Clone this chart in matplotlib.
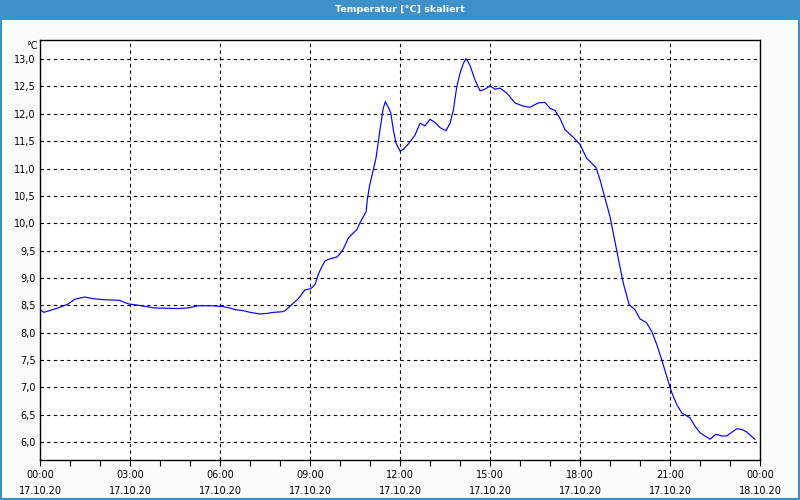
import numpy as np
import matplotlib
matplotlib.use("Agg")
import matplotlib.pyplot as plt
from matplotlib.patches import Rectangle
from matplotlib.ticker import MultipleLocator, FuncFormatter

# Stunden seit 17.10.20 00:00 und Temperatur in °C
hours = [0.00, 0.13, 0.60, 0.93, 1.16, 1.49, 1.77, 2.16, 2.66, 2.82, 2.99, 3.27,
         3.49, 3.82, 4.60, 4.93, 5.27, 5.67, 6.06, 6.33, 6.50, 6.78, 7.00, 7.33,
         7.56, 7.78, 8.06, 8.17, 8.39, 8.61, 8.83, 9.02, 9.17, 9.28, 9.39, 9.50,
         9.67, 9.89, 10.00, 10.11, 10.28, 10.44, 10.56, 10.67, 10.78, 10.87, 10.91,
         10.98, 11.03, 11.20, 11.33, 11.44, 11.51, 11.61, 11.69, 11.78, 11.87,
         12.00, 12.11, 12.28, 12.50, 12.67, 12.83, 13.00, 13.17, 13.33, 13.53,
         13.67, 13.78, 13.89, 14.00, 14.11, 14.20, 14.33, 14.50, 14.67, 14.83,
         15.00, 15.17, 15.33, 15.56, 15.83, 16.11, 16.33, 16.61, 16.83, 17.00,
         17.17, 17.33, 17.50, 17.78, 18.00, 18.22, 18.53, 18.67, 19.00, 19.22,
         19.33, 19.44, 19.64, 19.83, 20.00, 20.22, 20.39, 20.56, 20.72, 20.89,
         21.06, 21.22, 21.39, 21.67, 21.83, 22.00, 22.33, 22.53, 22.72, 22.89,
         23.22, 23.39, 23.56, 23.83]
temp = [8.42, 8.37, 8.45, 8.52, 8.61, 8.65, 8.62, 8.60, 8.59, 8.55, 8.52, 8.50,
        8.48, 8.45, 8.44, 8.45, 8.49, 8.49, 8.48, 8.45, 8.42, 8.40, 8.37, 8.34,
        8.35, 8.37, 8.38, 8.40, 8.51, 8.62, 8.78, 8.80, 8.88, 9.07, 9.20, 9.31,
        9.35, 9.38, 9.44, 9.53, 9.73, 9.82, 9.88, 10.01, 10.12, 10.21, 10.43,
        10.67, 10.79, 11.19, 11.70, 12.10, 12.22, 12.12, 12.02, 11.70, 11.46,
        11.32, 11.35, 11.45, 11.61, 11.83, 11.78, 11.90, 11.84, 11.75, 11.69,
        11.83, 12.07, 12.49, 12.74, 12.92, 13.01, 12.89, 12.62, 12.42, 12.45,
        12.51, 12.45, 12.47, 12.38, 12.20, 12.14, 12.12, 12.20, 12.21, 12.10,
        12.06, 11.92, 11.71, 11.57, 11.44, 11.19, 11.02, 10.79, 10.12, 9.51,
        9.21, 8.91, 8.51, 8.42, 8.25, 8.18, 8.02, 7.78, 7.51, 7.20,
        6.90, 6.69, 6.53, 6.44, 6.29, 6.17, 6.05, 6.14, 6.11, 6.11,
        6.24, 6.23, 6.18, 6.05]

tick_hours = [0, 3, 6, 9, 12, 15, 18, 21, 24]
tick_labels = ["00:00\n17.10.20", "03:00\n17.10.20", "06:00\n17.10.20",
               "09:00\n17.10.20", "12:00\n17.10.20", "15:00\n17.10.20",
               "18:00\n17.10.20", "21:00\n17.10.20", "00:00\n18.10.20"]

bar_blue = "#3c91c8"

fig = plt.figure(figsize=(8, 5), dpi=100, facecolor="#fbfdfb")

# Titelleiste und Fensterrahmen
fig.patches.append(Rectangle((0, 0.96), 1, 0.04, transform=fig.transFigure,
                             facecolor=bar_blue, edgecolor="none", zorder=0))
fig.patches.append(Rectangle((0.001, 0.002), 0.998, 0.996, transform=fig.transFigure,
                             facecolor="none", edgecolor=bar_blue, lw=1.5, zorder=0))
fig.text(0.5, 0.981, "Temperatur [°C] skaliert", color="white", fontsize=6.8,
         fontweight="bold", ha="center", va="center")

ax = fig.add_axes([0.05, 0.08, 0.90, 0.84])
ax.set_facecolor("white")
ax.plot(hours, temp, color="#0000ff", lw=0.85, zorder=3)

ax.set_xlim(0, 24)
ax.set_ylim(5.67, 13.35)

ax.set_xticks(tick_hours)
ax.set_xticklabels(tick_labels, fontsize=7, linespacing=1.8)
ax.xaxis.set_minor_locator(MultipleLocator(1))
ax.tick_params(axis="x", which="both", direction="out", length=4, width=0.8,
               color="black", pad=3)

ax.yaxis.set_major_formatter(FuncFormatter(lambda v, p: f"{v:.1f}".replace(".", ",")))
ax.set_yticks(np.arange(6.0, 13.01, 0.5))
ax.tick_params(axis="y", length=0, pad=3, labelsize=7)

ax.grid(True, which="major", color="black", linestyle=(0, (3, 3)), lw=0.8)
for s in ax.spines.values():
    s.set_color("black")
    s.set_linewidth(1)

ax.text(-0.003, 0.985, "°C", transform=ax.transAxes, ha="right", va="center",
        fontsize=7)

fig.savefig("out.png", dpi=100, facecolor=fig.get_facecolor())
